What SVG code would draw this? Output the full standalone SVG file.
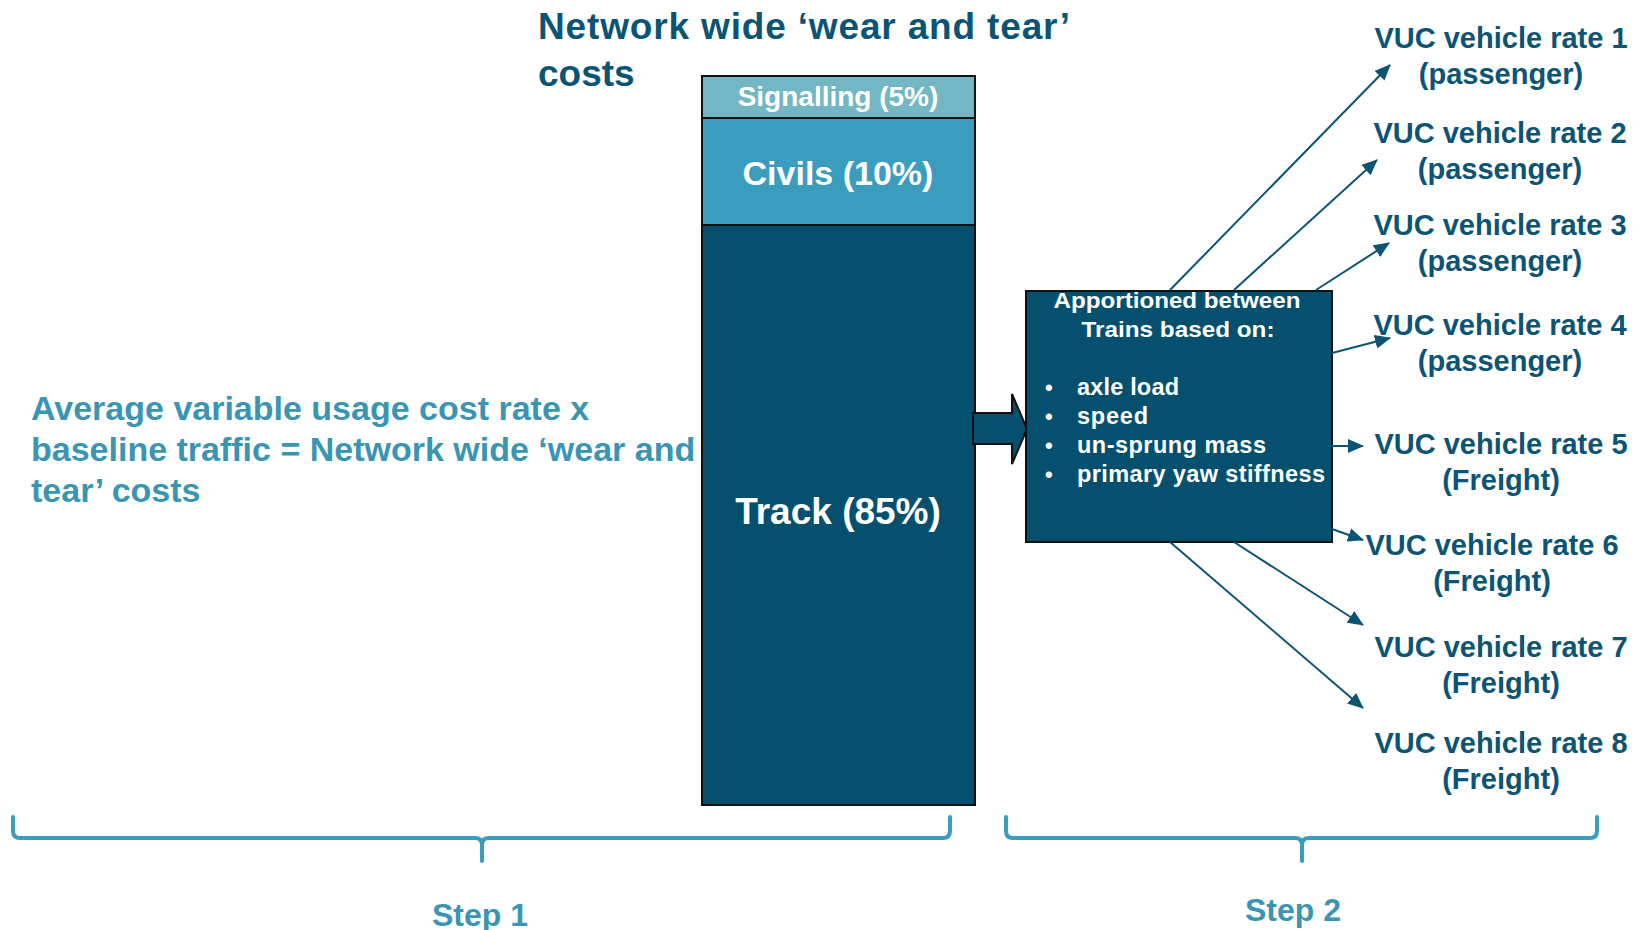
<svg xmlns="http://www.w3.org/2000/svg" width="1642" height="930" viewBox="0 0 1642 930">
<style>
.t{font-family:"Liberation Sans",Arial,sans-serif;font-weight:bold}
.navy{fill:#0B5473}
.teal{fill:#3A95B3}
.wh{fill:#FFFFFF}
.conn{stroke:#0B5473;stroke-width:2;fill:none;marker-end:url(#ah)}
.brace{stroke:#3A9DBE;stroke-width:4;fill:none;stroke-linecap:round;stroke-linejoin:round}
</style>
<defs>
<marker id="ah" markerUnits="userSpaceOnUse" markerWidth="16" markerHeight="14" refX="15" refY="7" orient="auto">
<path d="M0,0 L16,7 L0,14 Z" fill="#0B5473"/>
</marker>
</defs>
<rect width="1642" height="930" fill="#FFFFFF"/>

<g id="heading">
<text class="t navy" x="538" y="39" font-size="37" textLength="532" lengthAdjust="spacing">Network wide ‘wear and tear’</text>
<text class="t navy" x="538" y="86" font-size="37">costs</text>
</g>

<g id="bar">
<g id="signalling">
<rect x="702" y="76" width="273" height="42" fill="#72B7C3" stroke="#111" stroke-width="2"/>
<text class="t wh" x="838" y="106" font-size="28" text-anchor="middle">Signalling (5%)</text>
</g>
<g id="civils">
<rect x="702" y="118" width="273" height="107" fill="#3A9DBE" stroke="#111" stroke-width="2"/>
<text class="t wh" x="838" y="185" font-size="34" text-anchor="middle">Civils (10%)</text>
</g>
<g id="track">
<rect x="702" y="225" width="273" height="580" fill="#04506E" stroke="#111" stroke-width="2"/>
<text class="t wh" x="838" y="524" font-size="37" text-anchor="middle">Track (85%)</text>
</g>
</g>

<g id="block-arrow">
<path d="M973,413 L1012,413 L1012,394 L1027,429 L1012,464 L1012,444 L973,444 Z" fill="#04506E" stroke="#111" stroke-width="2"/>
</g>

<g id="apportion">
<rect x="1026" y="291" width="306" height="251" fill="#04506E" stroke="#111" stroke-width="2"/>
<text class="t wh" x="1177" y="308" font-size="22.5" text-anchor="middle" textLength="247" lengthAdjust="spacingAndGlyphs">Apportioned between</text>
<text class="t wh" x="1178" y="337" font-size="22.5" text-anchor="middle" textLength="193" lengthAdjust="spacingAndGlyphs">Trains based on:</text>
<text class="t wh" x="1045" y="395" font-size="22">•</text>
<text class="t wh" x="1077" y="395" font-size="23.5" textLength="102" lengthAdjust="spacing">axle load</text>
<text class="t wh" x="1045" y="424" font-size="22">•</text>
<text class="t wh" x="1077" y="424" font-size="23.5" textLength="71" lengthAdjust="spacing">speed</text>
<text class="t wh" x="1045" y="453" font-size="22">•</text>
<text class="t wh" x="1077" y="453" font-size="23.5" textLength="189" lengthAdjust="spacing">un-sprung mass</text>
<text class="t wh" x="1045" y="482" font-size="22">•</text>
<text class="t wh" x="1077" y="482" font-size="23.5" textLength="248" lengthAdjust="spacing">primary yaw stiffness</text>
</g>

<g id="left-text">
<text class="t teal" font-size="34">
<tspan x="31" y="420">Average variable usage cost rate x</tspan>
<tspan x="31" y="461">baseline traffic = Network wide ‘wear and</tspan>
<tspan x="31" y="502">tear’ costs</tspan>
</text>
</g>

<g id="rate1"><text class="t navy" font-size="29" text-anchor="middle"><tspan x="1501" y="48">VUC vehicle rate 1</tspan><tspan x="1501" y="84">(passenger)</tspan></text></g>
<g id="rate2"><text class="t navy" font-size="29" text-anchor="middle"><tspan x="1500" y="143">VUC vehicle rate 2</tspan><tspan x="1500" y="179">(passenger)</tspan></text></g>
<g id="rate3"><text class="t navy" font-size="29" text-anchor="middle"><tspan x="1500" y="235">VUC vehicle rate 3</tspan><tspan x="1500" y="271">(passenger)</tspan></text></g>
<g id="rate4"><text class="t navy" font-size="29" text-anchor="middle"><tspan x="1500" y="335">VUC vehicle rate 4</tspan><tspan x="1500" y="371">(passenger)</tspan></text></g>
<g id="rate5"><text class="t navy" font-size="29" text-anchor="middle"><tspan x="1501" y="454">VUC vehicle rate 5</tspan><tspan x="1501" y="490">(Freight)</tspan></text></g>
<g id="rate6"><text class="t navy" font-size="29" text-anchor="middle"><tspan x="1492" y="555">VUC vehicle rate 6</tspan><tspan x="1492" y="591">(Freight)</tspan></text></g>
<g id="rate7"><text class="t navy" font-size="29" text-anchor="middle"><tspan x="1501" y="657">VUC vehicle rate 7</tspan><tspan x="1501" y="693">(Freight)</tspan></text></g>
<g id="rate8"><text class="t navy" font-size="29" text-anchor="middle"><tspan x="1501" y="753">VUC vehicle rate 8</tspan><tspan x="1501" y="789">(Freight)</tspan></text></g>

<g id="connectors">
<line class="conn" x1="1170" y1="290" x2="1390" y2="65"/>
<line class="conn" x1="1234" y1="290" x2="1377" y2="160"/>
<line class="conn" x1="1316" y1="290" x2="1389" y2="243"/>
<line class="conn" x1="1332" y1="353" x2="1390" y2="338"/>
<line class="conn" x1="1332" y1="446" x2="1363" y2="446"/>
<line class="conn" x1="1332" y1="529" x2="1363" y2="540"/>
<line class="conn" x1="1234" y1="542" x2="1363" y2="625"/>
<line class="conn" x1="1170" y1="542" x2="1363" y2="708"/>
</g>

<g id="brace1">
<path class="brace" d="M13,817 L13,831 Q13,838 20,838 L475,838 Q482,838 482,845 L482,861 M482,845 Q482,838 489,838 L943,838 Q950,838 950,831 L950,817"/>
<text class="t teal" x="480" y="926" font-size="32" text-anchor="middle">Step 1</text>
</g>
<g id="brace2">
<path class="brace" d="M1006,817 L1006,831 Q1006,838 1013,838 L1295,838 Q1302,838 1302,845 L1302,861 M1302,845 Q1302,838 1309,838 L1590,838 Q1597,838 1597,831 L1597,817"/>
<text class="t teal" x="1293" y="921" font-size="32" text-anchor="middle">Step 2</text>
</g>
</svg>
